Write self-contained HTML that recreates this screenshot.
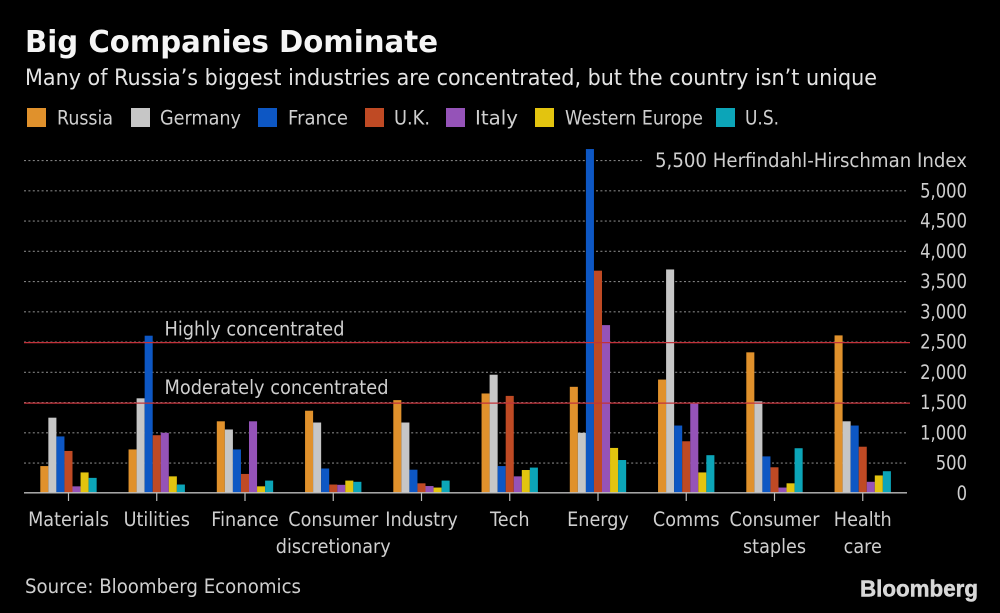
<!DOCTYPE html>
<html lang="en">
<head>
<meta charset="utf-8">
<title>Big Companies Dominate</title>
<style>
html,body{margin:0;padding:0;background:#000;}
svg{display:block;}
text{font-family:"DejaVu Sans","Liberation Sans",sans-serif;}
</style>
</head>
<body>
<svg id="chart" xmlns="http://www.w3.org/2000/svg" width="1000" height="613" viewBox="0 0 1000 613">
  <rect x="0" y="0" width="1000" height="613" fill="#000"/>
  <text x="25" y="52" font-size="30" font-weight="700" fill="#f5f5f5" textLength="413" lengthAdjust="spacingAndGlyphs">Big Companies Dominate</text>
  <text x="25" y="85" font-size="22" fill="#e4e4e4" textLength="852" lengthAdjust="spacingAndGlyphs">Many of Russia’s biggest industries are concentrated, but the country isn’t unique</text>
  <g id="legend"></g>
  <g id="grid"></g>
  <g id="bars"></g>
  <g id="thresholds"></g>
  <g id="xaxis"></g>
  <g id="yaxis"></g>
  <text x="967" y="167" text-anchor="end" font-size="19.5" fill="#cfcfcf" textLength="312" lengthAdjust="spacingAndGlyphs">5,500 Herfindahl-Hirschman Index</text>
  <text x="164.5" y="335.5" font-size="19.5" fill="#cfcfcf" textLength="180" lengthAdjust="spacingAndGlyphs">Highly concentrated</text>
  <text x="164.5" y="394" font-size="19.5" fill="#cfcfcf" textLength="224" lengthAdjust="spacingAndGlyphs">Moderately concentrated</text>
  <text x="25" y="593" font-size="19.5" fill="#cfcfcf" textLength="276" lengthAdjust="spacingAndGlyphs">Source: Bloomberg Economics</text>
  <text x="860" y="596.5" style="font-family:'Liberation Sans',sans-serif" font-size="23" font-weight="700" fill="#d8d8d8" stroke="#d8d8d8" stroke-width="0.5" textLength="118" lengthAdjust="spacingAndGlyphs">Bloomberg</text>
</svg>
<script>
var categories = [["Materials"],["Utilities"],["Finance"],["Consumer","discretionary"],["Industry"],["Tech"],["Energy"],["Comms"],["Consumer","staples"],["Health","care"]];
var seriesNames = ["Russia","Germany","France","U.K.","Italy","Western Europe","U.S."];
var seriesColors = ["#e0912c","#c6c6c6","#0d57c4","#bf4a24","#9553b8","#e3c40f","#0ca5b8"];
var russia  = [450,725,1190,1365,1540,1650,1760,1880,2330,2610];
var germany = [1250,1570,1055,1170,1170,1960,1000,3700,1520,1190];
var france  = [940,2605,725,410,390,450,5690,1120,610,1120];
var uk      = [700,960,320,145,165,1610,3680,860,430,770];
var italy   = [115,1000,1190,140,120,280,2780,1490,95,190];
var westernEurope = [345,280,115,210,95,385,750,345,165,295];
var us      = [255,145,210,190,210,425,550,630,745,365];
var seriesValues = [russia,germany,france,uk,italy,westernEurope,us];
var yTicks = [0,500,1000,1500,2000,2500,3000,3500,4000,4500,5000];
var yTickLabels = ["0","500","1,000","1,500","2,000","2,500","3,000","3,500","4,000","4,500","5,000"];
var gridValues = [500,1000,1500,2000,2500,3000,3500,4000,4500,5000];
var topGridValue = 5500;
var thresholdValues = [1500,2500];

var NS = "http://www.w3.org/2000/svg";
function yScale(v){ return 493.3 - v * 0.0605; }
function xScale(i){ return 68.5 + i * 88.25; }
var barWidth = 8.05;

function make(tag, parent){
  var el = document.createElementNS(NS, tag);
  parent.appendChild(el);
  return el;
}
function setAll(el, attrs){
  for (var k in attrs) el.setAttribute(k, attrs[k]);
}

/* legend */
var legendGroup = document.getElementById("legend");
var legendSwatchX = [27,131,258,365,446,535,716];
var legendTextX = [57,160,288,394,475,565,745];
var legendTextW = [56,81,60,36,43,138,34];
seriesNames.forEach(function(name, s){
  var sw = make("rect", legendGroup);
  
  
  setAll(sw, {x: legendSwatchX[s], y: 108, width: 19, height: 19, fill: seriesColors[s]});
  var t = make("text", legendGroup);
  
  
  setAll(t, {x: legendTextX[s], y: 124.5, "font-size": 19.5, fill: "#cfcfcf", textLength: legendTextW[s], lengthAdjust: "spacingAndGlyphs"});
  t.textContent = name;
});

/* gridlines */
var gridGroup = document.getElementById("grid");
function gridLine(v, endX){
  var l = make("line", gridGroup);
  
  
  setAll(l, {x1: 24, x2: endX, y1: yScale(v), y2: yScale(v), stroke: "#808080", "stroke-width": 1.2, "stroke-dasharray": "2 2.4"});
}
gridValues.forEach(function(v){ gridLine(v, 907); });
gridLine(topGridValue, 643);

/* bars */
var barsGroup = document.getElementById("bars");
seriesValues.forEach(function(values, s){
  values.forEach(function(v, i){
    var r = make("rect", barsGroup);
    
    
    setAll(r, {x: xScale(i) - 28.2 + s * barWidth, y: yScale(v), width: barWidth, height: yScale(0) - yScale(v) - 0.6, fill: seriesColors[s]});
  });
});

/* threshold lines */
var thresholdGroup = document.getElementById("thresholds");
thresholdValues.forEach(function(v){
  var l = make("line", thresholdGroup);
  
  
  setAll(l, {x1: 24, x2: 910, y1: yScale(v) + 0.6, y2: yScale(v) + 0.6, stroke: "#c2323a", "stroke-width": 1.2});
});

/* x axis */
var xGroup = document.getElementById("xaxis");
var baseline = make("line", xGroup);


setAll(baseline, {x1: 24, x2: 907, y1: 492.8, y2: 492.8, stroke: "#bdbdbd", "stroke-width": 1.4});
categories.forEach(function(lines, i){
  var tick = make("line", xGroup);
  
  
  setAll(tick, {x1: xScale(i), x2: xScale(i), y1: 493, y2: 501, stroke: "#bdbdbd", "stroke-width": 1.2});
  lines.forEach(function(line, j){
    var t = make("text", xGroup);
    
    
    setAll(t, {transform: "translate(" + xScale(i) + "," + (526 + j * 27) + ") scale(0.905,1)", "text-anchor": "middle", "font-size": 19.5, fill: "#cfcfcf"});
    t.textContent = line;
  });
});

/* y axis */
var yGroup = document.getElementById("yaxis");
yTicks.forEach(function(v, i){
  var t = make("text", yGroup);
  
  
  setAll(t, {transform: "translate(967," + (yScale(v) + 6.5) + ") scale(0.84,1)", "text-anchor": "end", "font-size": 19.5, fill: "#cfcfcf"});
  t.textContent = yTickLabels[i];
});
</script>
</body>
</html>
